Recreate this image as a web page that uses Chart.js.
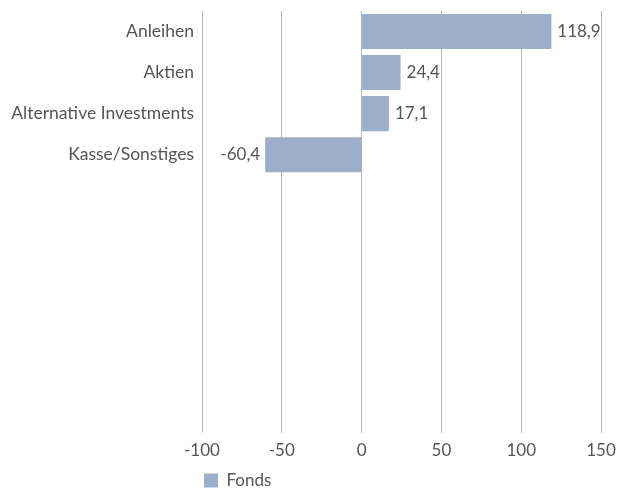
<!DOCTYPE html>
<html>
<head>
<meta charset="utf-8">
<script src="https://cdn.jsdelivr.net/npm/chart.js@4"></script>
<style>
  html, body { margin: 0; padding: 0; background: #fff; }
  #wrap { width: 619px; height: 493px; }
</style>
</head>
<body>
<div id="wrap"><canvas id="chartFonds"></canvas></div>
<script>
// Daten
const kategorien = ['Anleihen', 'Aktien', 'Alternative Investments', 'Kasse/Sonstiges', '', '', '', '', '', ''];
const fondsWerte = [118.9, 24.4, 17.1, -60.4, null, null, null, null, null, null];
const xTicks = [-100, -50, 0, 50, 100, 150];

const textFarbe = '#555555';
const balkenFarbe = '#9bafca';

// Werte neben den Balken
const wertLabels = {
    id: 'wertLabels',
    afterDatasetsDraw(chart) {
        const ctx = chart.ctx;
        const meta = chart.getDatasetMeta(0);
        ctx.save();
        ctx.font = '17px Lato';
        ctx.fillStyle = textFarbe;
        ctx.textBaseline = 'middle';
        meta.data.forEach((bar, i) => {
            const v = fondsWerte[i];
            if (v === null) return;
            const txt = v.toLocaleString('de-DE', { minimumFractionDigits: 1 });
            if (v >= 0) {
                ctx.textAlign = 'left';
                ctx.fillText(txt, bar.x + 6, bar.y);
            } else {
                ctx.textAlign = 'right';
                ctx.fillText(txt, bar.x - 5, bar.y);
            }
        });
        ctx.restore();
    }
};

new Chart(document.getElementById('chartFonds'), {
    type: 'bar',
    data: {
        labels: kategorien,
        datasets: [{
            label: 'Fonds',
            data: fondsWerte,
            backgroundColor: balkenFarbe,
            barPercentage: 0.854,
            categoryPercentage: 1.0
        }]
    },
    options: {
        indexAxis: 'y',
        responsive: true,
        maintainAspectRatio: false,
        animation: false,
        layout: { padding: { top: 11, right: 18, left: 0, bottom: -6 } },
        plugins: {
            tooltip: { enabled: false },
            legend: {
                position: 'bottom',
                align: 'start',
                fullSize: false,
                labels: {
                    boxWidth: 14,
                    boxHeight: 14,
                    padding: 2,
                    color: textFarbe,
                    font: { family: 'Lato', size: 17 }
                }
            }
        },
        scales: {
            x: {
                min: -100,
                max: 150,
                afterBuildTicks: axis => { axis.ticks = xTicks.map(v => ({ value: v })); },
                afterFit: axis => {
                    axis.height += 1;
                    axis.paddingLeft = 0;
                    axis.paddingRight = 0;
                },
                grid: { color: '#b4b4b4', lineWidth: 1, drawTicks: true, tickLength: 11 },
                border: { display: false },
                ticks: {
                    color: textFarbe,
                    padding: 8,
                    font: { family: 'Lato', size: 17 }
                }
            },
            y: {
                grid: { display: false, drawTicks: false },
                border: { display: false },
                afterFit: axis => {
                    axis.width = 202;
                    axis.paddingTop = 0;
                    axis.paddingBottom = 0;
                },
                ticks: {
                    color: textFarbe,
                    padding: 8,
                    autoSkip: false,
                    font: { family: 'Lato', size: 17.5 }
                }
            }
        }
    },
    plugins: [wertLabels]
});
</script>
</body>
</html>
